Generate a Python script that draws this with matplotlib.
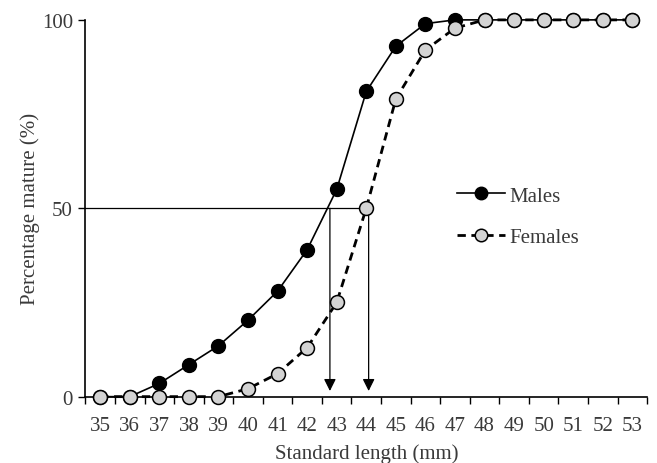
import matplotlib
matplotlib.use("Agg")
import matplotlib.pyplot as plt
from matplotlib.ticker import MultipleLocator, FixedLocator

# standard length classes (mm)
lengths = list(range(35, 54))
males = [0, 0, 3.5, 8.5, 13.5, 20.3, 28, 39, 55, 81, 93, 99, 100,
         100, 100, 100, 100, 100, 100]
females = [0, 0, 0, 0, 0, 2.1, 6.1, 13, 25, 50, 79, 92, 97.8,
           100, 100, 100, 100, 100, 100]

# lengths at 50% maturity (arrows)
l50_males = 42.77
l50_females = 44.08

plt.rcParams['font.family'] = ['Liberation Serif', 'DejaVu Serif']
txt_col = '#3a3a3a'
fs = 15

fig = plt.figure(figsize=(6.57, 4.64), dpi=100)
ax = fig.add_axes([0.130, 0.143, 0.855, 0.812])

# reference lines at 50 %
ax.plot([34.5, l50_females], [50, 50], color='black', lw=0.9, zorder=1)
for xv in (l50_males, l50_females):
    ax.annotate('', xy=(xv, 1.5), xytext=(xv, 50),
                arrowprops=dict(arrowstyle='-|>', color='black', lw=0.9,
                                mutation_scale=18, shrinkA=0, shrinkB=0),
                zorder=2)

ax.plot(lengths, males, color='black', lw=1.2, marker='o', markersize=10,
        markerfacecolor='black', markeredgecolor='black', label='Males',
        zorder=3, clip_on=False)
ax.plot(lengths, females, color='black', lw=2, ls=(0, (3, 2)), marker='o',
        markersize=10, markerfacecolor='#d3d3d3', markeredgecolor='black',
        markeredgewidth=1.1, label='Females', zorder=4, clip_on=False)

ax.set_xlim(34.5, 53.5)
ax.set_ylim(0, 100)
ax.set_xticks(lengths)
ax.xaxis.set_minor_locator(FixedLocator([x + 0.5 for x in range(34, 54)]))
ax.tick_params(axis='x', which='major', length=0, pad=14, labelsize=fs,
               labelcolor=txt_col)
ax.tick_params(axis='x', which='minor', length=5, direction='out', width=1)
ax.yaxis.set_major_locator(MultipleLocator(50))
ax.tick_params(axis='y', length=5, direction='out', width=1, labelsize=fs,
               labelcolor=txt_col, pad=4)

for side in ('top', 'right'):
    ax.spines[side].set_visible(False)
for side in ('left', 'bottom'):
    ax.spines[side].set_linewidth(1.2)

ax.set_xlabel('Standard length (mm)', fontsize=fs, color=txt_col, labelpad=6)
ax.set_ylabel('Percentage mature (%)', fontsize=fs, color=txt_col, labelpad=1)

leg = ax.legend(loc='center left', bbox_to_anchor=(0.628, 0.478), frameon=False,
                fontsize=fs, handlelength=2.3, handletextpad=0.2,
                labelspacing=1.05, markerscale=0.9)
for t in leg.get_texts():
    t.set_color(txt_col)

fig.savefig('out.png', dpi=100)
